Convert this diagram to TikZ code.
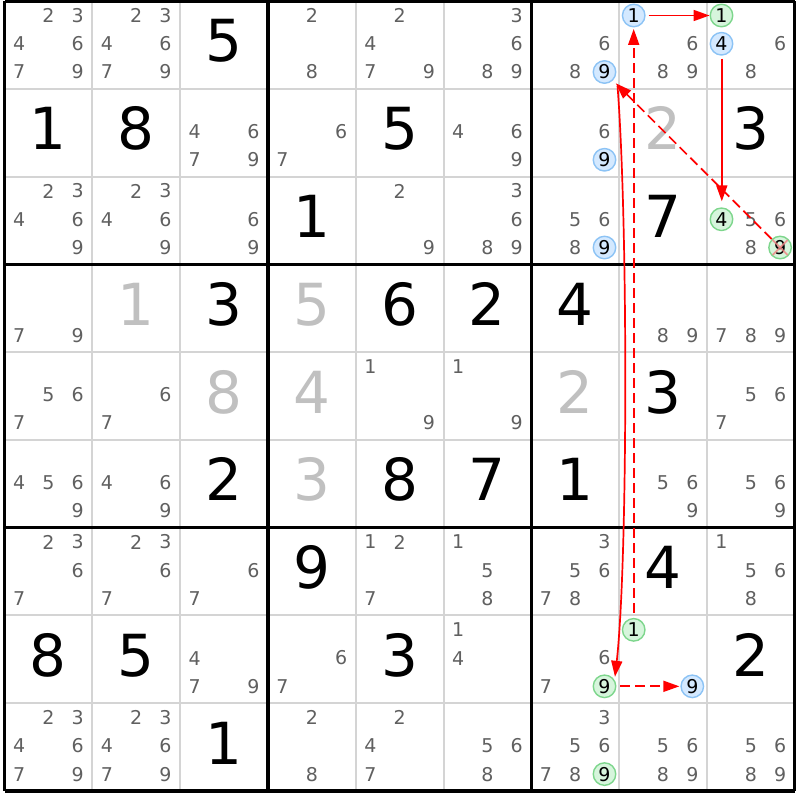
\documentclass[tikz,border=0pt]{standalone}
\usepackage{fontspec}
\setmainfont{DejaVu Sans}
\usetikzlibrary{arrows.meta,calc}
\definecolor{candgray}{RGB}{96,96,96}
\definecolor{givengray}{RGB}{192,192,192}
\definecolor{thingray}{RGB}{212,212,212}
\definecolor{bluefill}{RGB}{212,233,255}
\definecolor{bluedraw}{RGB}{140,195,245}
\definecolor{greenfill}{RGB}{214,245,220}
\definecolor{greendraw}{RGB}{125,214,140}
\definecolor{arrred}{RGB}{255,0,0}
\definecolor{xred}{RGB}{240,130,130}
\newcommand{\CW}{87.8}
\newcommand{\CH}{87.76}
\tikzset{
 cand/.style={inner sep=0pt, font=\fontsize{19}{19}\selectfont, text=candgray},
 candb/.style={circle, inner sep=0pt, minimum size=22.5pt, line width=1.4pt, draw=bluedraw, fill=bluefill, font=\fontsize{19}{19}\selectfont, text=black},
 candg/.style={candb, draw=greendraw, fill=greenfill},
 givn/.style={inner sep=0pt, anchor=base, font=\fontsize{58}{58}\selectfont, text=black},
 givg/.style={givn, text=givengray},
 link/.style={color=arrred, line width=1.7pt, -{Triangle[length=16pt,width=11pt]}},
 weak/.style={link, dash pattern=on 10pt off 5pt},
 thinline/.style={draw=thingray, line width=2pt},
 thickline/.style={draw=black, line width=3.3pt},
 xmark/.style={draw=xred, line width=1.8pt, opacity=0.8},
}
\newcommand{\cands}[3]{%
  \foreach \d in {#3}{%
    \pgfmathtruncatemacro\ci{mod(\d-1,3)}%
    \pgfmathtruncatemacro\ri{(\d-1-\ci)/3}%
    \node[cand] (k#1#2\d) at ({4.5+\CW*#2+14.6+29.3*\ci},{1+\CH*#1+14.5+28.25*\ri}) {\d};
  }}
\newcommand{\candc}[4]{%
  \pgfmathtruncatemacro\ci{mod(#3-1,3)}%
  \pgfmathtruncatemacro\ri{(#3-1-\ci)/3}%
  \node[#4] (k#1#2#3) at ({4.5+\CW*#2+14.6+29.3*\ci},{1+\CH*#1+14.5+28.25*\ri}) {#3};}
\newcommand{\givd}[4]{\node[#4] (g#1#2) at ({4.5+\CW*(#2+0.5)},{1+\CH*#1+61}) {#3};}
\begin{document}
\begin{tikzpicture}[x=1pt,y=-1pt]
\useasboundingbox (0,0) rectangle (800,800);
\fill[white] (0,0) rectangle (800,800);
% thin grid
\foreach \i in {1,2,4,5,7,8}{
  \draw[thinline] ({4.5+\CW*\i},1) -- ({4.5+\CW*\i},{1+9*\CH});
  \draw[thinline] (4.5,{1+\CH*\i}) -- ({4.5+9*\CW},{1+\CH*\i});
}
% row 0
\cands{0}{0}{2,3,4,6,7,9}
\cands{0}{1}{2,3,4,6,7,9}
\givd{0}{2}{5}{givn}
\cands{0}{3}{2,8}
\cands{0}{4}{2,4,7,9}
\cands{0}{5}{3,6,8,9}
\cands{0}{6}{6,8}
\candc{0}{6}{9}{candb}
\cands{0}{7}{6,8,9}
\candc{0}{7}{1}{candb}
\cands{0}{8}{6,8}
\candc{0}{8}{1}{candg}
\candc{0}{8}{4}{candb}
% row 1
\givd{1}{0}{1}{givn}
\givd{1}{1}{8}{givn}
\cands{1}{2}{4,6,7,9}
\cands{1}{3}{6,7}
\givd{1}{4}{5}{givn}
\cands{1}{5}{4,6,9}
\cands{1}{6}{6}
\candc{1}{6}{9}{candb}
\givd{1}{7}{2}{givg}
\givd{1}{8}{3}{givn}
% row 2
\cands{2}{0}{2,3,4,6,9}
\cands{2}{1}{2,3,4,6,9}
\cands{2}{2}{6,9}
\givd{2}{3}{1}{givn}
\cands{2}{4}{2,9}
\cands{2}{5}{3,6,8,9}
\cands{2}{6}{5,6,8}
\candc{2}{6}{9}{candb}
\givd{2}{7}{7}{givn}
\cands{2}{8}{5,6,8}
\candc{2}{8}{4}{candg}
\candc{2}{8}{9}{candg}
\draw[xmark] ($(k289)+(-7.5,-7.5)$) -- ($(k289)+(7.5,7.5)$);
\draw[xmark] ($(k289)+(-7.5,7.5)$) -- ($(k289)+(7.5,-7.5)$);
% row 3
\cands{3}{0}{7,9}
\givd{3}{1}{1}{givg}
\givd{3}{2}{3}{givn}
\givd{3}{3}{5}{givg}
\givd{3}{4}{6}{givn}
\givd{3}{5}{2}{givn}
\givd{3}{6}{4}{givn}
\cands{3}{7}{8,9}
\cands{3}{8}{7,8,9}
% row 4
\cands{4}{0}{5,6,7}
\cands{4}{1}{6,7}
\givd{4}{2}{8}{givg}
\givd{4}{3}{4}{givg}
\cands{4}{4}{1,9}
\cands{4}{5}{1,9}
\givd{4}{6}{2}{givg}
\givd{4}{7}{3}{givn}
\cands{4}{8}{5,6,7}
% row 5
\cands{5}{0}{4,5,6,9}
\cands{5}{1}{4,6,9}
\givd{5}{2}{2}{givn}
\givd{5}{3}{3}{givg}
\givd{5}{4}{8}{givn}
\givd{5}{5}{7}{givn}
\givd{5}{6}{1}{givn}
\cands{5}{7}{5,6,9}
\cands{5}{8}{5,6,9}
% row 6
\cands{6}{0}{2,3,6,7}
\cands{6}{1}{2,3,6,7}
\cands{6}{2}{6,7}
\givd{6}{3}{9}{givn}
\cands{6}{4}{1,2,7}
\cands{6}{5}{1,5,8}
\cands{6}{6}{3,5,6,7,8}
\givd{6}{7}{4}{givn}
\cands{6}{8}{1,5,6,8}
% row 7
\givd{7}{0}{8}{givn}
\givd{7}{1}{5}{givn}
\cands{7}{2}{4,7,9}
\cands{7}{3}{6,7}
\givd{7}{4}{3}{givn}
\cands{7}{5}{1,4}
\cands{7}{6}{6,7}
\candc{7}{6}{9}{candg}
\candc{7}{7}{1}{candg}
\candc{7}{7}{9}{candb}
\givd{7}{8}{2}{givn}
% row 8
\cands{8}{0}{2,3,4,6,7,9}
\cands{8}{1}{2,3,4,6,7,9}
\givd{8}{2}{1}{givn}
\cands{8}{3}{2,8}
\cands{8}{4}{2,4,7}
\cands{8}{5}{5,6,8}
\cands{8}{6}{3,5,6,7,8}
\candc{8}{6}{9}{candg}
\cands{8}{7}{5,6,8,9}
\cands{8}{8}{5,6,8,9}
% thick grid
\foreach \i in {0,3,6,9}{
  \draw[thickline] ({4.5+\CW*\i},1) -- ({4.5+\CW*\i},{1+9*\CH});
  \draw[thickline] (4.5,{1+\CH*\i}) -- ({4.5+9*\CW},{1+\CH*\i});
}
% links
\draw[link, shorten <=3pt] (k071) -- (k081);
\draw[link, shorten <=3pt, shorten >=6pt] ([xshift=0.3pt]k084.south) -- ([xshift=0.3pt]k284.north);
\draw[weak, shorten >=4pt] (k289) -- (k069);
\draw[weak, shorten <=5pt, shorten >=1.5pt] (k771) -- (k071);
\draw[weak, shorten <=4pt, shorten >=1pt] (k769) -- (k779);
\draw[link] ($(k069)+(13,14)$) .. controls ($(k069)+(23.5,148)$) and ($(k769)+(23.5,-126)$) .. ($(k769)+(10.5,-9.5)$);
\end{tikzpicture}
\end{document}
